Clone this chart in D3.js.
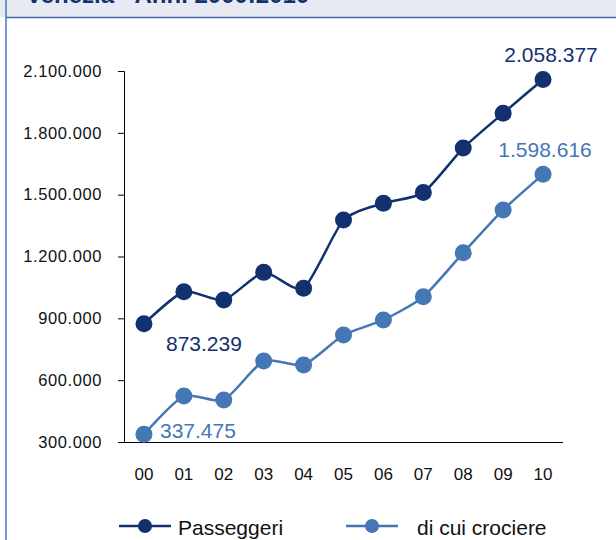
<!DOCTYPE html>
<html>
<head>
<meta charset="utf-8">
<script src="https://cdn.jsdelivr.net/npm/d3@7/dist/d3.min.js"></script>
<style>
  html, body { margin: 0; padding: 0; background: #ffffff; }
  svg { display: block; font-family: "Liberation Sans", Arial, sans-serif; }
</style>
</head>
<body>
<svg id="chart" width="616" height="540"></svg>
<script>
// Passenger traffic, Venice port, 2000–2010
const years = ["00", "01", "02", "03", "04", "05", "06", "07", "08", "09", "10"];
const passeggeri = [873239, 1029000, 989000, 1123000, 1046000, 1377000, 1458000, 1510000, 1726000, 1895000, 2058377];
const crociere = [337475, 523000, 504000, 693000, 674000, 819000, 892000, 1005000, 1218000, 1426000, 1598616];
const yTicks = [300000, 600000, 900000, 1200000, 1500000, 1800000, 2100000];
const seriesNames = ["Passeggeri", "di cui crociere"];
const titleText = "Venezia - Anni 2000:2010";

const dark = "#13306f";
const light = "#4576b5";

const svg = d3.select("#chart");
const W = 616, H = 540;

// panel frame and header band
svg.append("rect").attr("x", 0).attr("y", 0).attr("width", W).attr("height", 17)
  .attr("fill", "#e7e9f3");
svg.append("line").attr("x1", 6).attr("x2", W).attr("y1", 17.5).attr("y2", 17.5)
  .attr("stroke", "#3e6aa6").attr("stroke-width", 1.5);
svg.append("line").attr("x1", 6).attr("x2", 6).attr("y1", 0).attr("y2", H)
  .attr("stroke", "#4a7ab8").attr("stroke-width", 1.5);
svg.append("text").attr("x", 26).attr("y", 3)
  .attr("fill", dark).attr("font-weight", "bold").attr("font-size", 24)
  .text(titleText);

// scales
const x = d3.scaleBand().domain(years).range([124, 563]).padding(0);
const y = d3.scaleLinear().domain([300000, 2100000]).range([442, 71]);
const fmt = v => d3.format(",")(v).replace(/,/g, ".");

// y axis
const yAxis = svg.append("g").attr("transform", "translate(124,0)")
  .call(d3.axisLeft(y).tickValues(yTicks).tickSize(6).tickPadding(16).tickFormat(fmt));
yAxis.select(".domain").attr("stroke", "#000").attr("stroke-width", 1);
yAxis.selectAll(".tick line").attr("stroke", "#000");
yAxis.selectAll(".tick text").attr("font-size", 16.5).attr("letter-spacing", 0.6)
  .attr("fill", "#111").attr("font-family", "Liberation Sans, Arial, sans-serif");

// x axis
const xAxis = svg.append("g").attr("transform", "translate(0,442)")
  .call(d3.axisBottom(x).tickSize(0).tickPadding(26));
xAxis.select(".domain").attr("stroke", "#000").attr("stroke-width", 1).attr("d", "M124,0.5H563");
xAxis.selectAll(".tick text").attr("font-size", 17).attr("fill", "#111")
  .attr("font-family", "Liberation Sans, Arial, sans-serif").attr("dy", 0)
  .attr("y", 38);

const cx = d => x(d) + x.bandwidth() / 2;
const line = d3.line().x((d, i) => cx(years[i])).y(d => y(d))
  .curve(d3.curveCardinal.tension(0.35));

function drawSeries(values, color) {
  const g = svg.append("g");
  g.append("path").datum(values).attr("d", line)
    .attr("fill", "none").attr("stroke", color).attr("stroke-width", 2.5);
  g.selectAll("circle").data(values).enter().append("circle")
    .attr("cx", (d, i) => cx(years[i])).attr("cy", d => y(d))
    .attr("r", 8.5).attr("fill", color);
}
drawSeries(passeggeri, dark);
drawSeries(crociere, light);

// value labels at first and last year
const last = years.length - 1;
function label(val, i, dx, dy, color) {
  svg.append("text").attr("x", cx(years[i]) + dx).attr("y", y(val) + dy)
    .attr("fill", color).attr("font-size", 21).attr("text-anchor", "middle")
    .text(fmt(val));
}
label(passeggeri[0], 0, 60, 27, dark);
label(passeggeri[last], last, 8, -18, dark);
label(crociere[0], 0, 54, 4, light);
label(crociere[last], last, 2, -17, light);

// legend
const legend = [
  { name: seriesNames[0], color: dark, x0: 119, tx: 178 },
  { name: seriesNames[1], color: light, x0: 346, tx: 417 }
];
const lg = svg.append("g");
legend.forEach(e => {
  lg.append("line").attr("x1", e.x0).attr("x2", e.x0 + 52).attr("y1", 526).attr("y2", 526)
    .attr("stroke", e.color).attr("stroke-width", 2.5);
  lg.append("circle").attr("cx", e.x0 + 26).attr("cy", 526).attr("r", 7).attr("fill", e.color);
  lg.append("text").attr("x", e.tx).attr("y", 535).attr("font-size", 21).attr("fill", "#111")
    .text(e.name);
});
</script>
</body>
</html>
